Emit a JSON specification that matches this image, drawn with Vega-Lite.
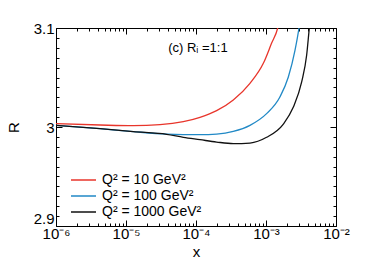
{
  "$schema": "https://vega.github.io/schema/vega-lite/v6.json",
  "width": 280,
  "height": 198,
  "autosize": "none",
  "padding": {"left": 56, "top": 28, "right": 38, "bottom": 38},
  "config": {
    "font": "Liberation Sans",
    "view": {"stroke": "black", "strokeWidth": 1},
    "axis": {"domain": false, "grid": false, "tickColor": "black", "labelColor": "black", "titleColor": "black", "labelFont": "Liberation Sans", "titleFont": "Liberation Sans", "titleFontWeight": "normal"}
  },
  "data": {
    "values": [
      {"s": "Q² = 10 GeV²", "x": 1e-6, "r": 3.0034},
      {"s": "Q² = 10 GeV²", "x": 4.26e-6, "r": 3.002},
      {"s": "Q² = 10 GeV²", "x": 1.27e-5, "r": 3.0013},
      {"s": "Q² = 10 GeV²", "x": 3.06e-5, "r": 3.0023},
      {"s": "Q² = 10 GeV²", "x": 6.59e-5, "r": 3.0054},
      {"s": "Q² = 10 GeV²", "x": 1.14e-4, "r": 3.0098},
      {"s": "Q² = 10 GeV²", "x": 1.97e-4, "r": 3.0165},
      {"s": "Q² = 10 GeV²", "x": 3.41e-4, "r": 3.0273},
      {"s": "Q² = 10 GeV²", "x": 5.9e-4, "r": 3.0441},
      {"s": "Q² = 10 GeV²", "x": 9.16e-4, "r": 3.0643},
      {"s": "Q² = 10 GeV²", "x": 1.2e-3, "r": 3.0845},
      {"s": "Q² = 10 GeV²", "x": 1.47e-3, "r": 3.1},
      {"s": "Q² = 10 GeV²", "x": 1.6e-3, "r": 3.112},
      {"s": "Q² = 100 GeV²", "x": 1e-6, "r": 3.0017},
      {"s": "Q² = 100 GeV²", "x": 4.26e-6, "r": 2.9983},
      {"s": "Q² = 100 GeV²", "x": 1.27e-5, "r": 2.9953},
      {"s": "Q² = 100 GeV²", "x": 3.81e-5, "r": 2.9929},
      {"s": "Q² = 100 GeV²", "x": 1.14e-4, "r": 2.9923},
      {"s": "Q² = 100 GeV²", "x": 1.97e-4, "r": 2.9929},
      {"s": "Q² = 100 GeV²", "x": 3.41e-4, "r": 2.9956},
      {"s": "Q² = 100 GeV²", "x": 5.9e-4, "r": 3.0017},
      {"s": "Q² = 100 GeV²", "x": 1.02e-3, "r": 3.0135},
      {"s": "Q² = 100 GeV²", "x": 1.58e-3, "r": 3.0303},
      {"s": "Q² = 100 GeV²", "x": 2.08e-3, "r": 3.0502},
      {"s": "Q² = 100 GeV²", "x": 2.59e-3, "r": 3.0771},
      {"s": "Q² = 100 GeV²", "x": 2.96e-3, "r": 3.1},
      {"s": "Q² = 100 GeV²", "x": 3.1e-3, "r": 3.11},
      {"s": "Q² = 1000 GeV²", "x": 1e-6, "r": 3.0017},
      {"s": "Q² = 1000 GeV²", "x": 4.26e-6, "r": 2.9983},
      {"s": "Q² = 1000 GeV²", "x": 1.27e-5, "r": 2.9953},
      {"s": "Q² = 1000 GeV²", "x": 3.81e-5, "r": 2.9926},
      {"s": "Q² = 1000 GeV²", "x": 6.59e-5, "r": 2.9896},
      {"s": "Q² = 1000 GeV²", "x": 1.14e-4, "r": 2.9872},
      {"s": "Q² = 1000 GeV²", "x": 1.97e-4, "r": 2.9848},
      {"s": "Q² = 1000 GeV²", "x": 3.41e-4, "r": 2.9832},
      {"s": "Q² = 1000 GeV²", "x": 5.9e-4, "r": 2.9838},
      {"s": "Q² = 1000 GeV²", "x": 1.02e-3, "r": 2.9896},
      {"s": "Q² = 1000 GeV²", "x": 1.77e-3, "r": 3.003},
      {"s": "Q² = 1000 GeV²", "x": 2.45e-3, "r": 3.0199},
      {"s": "Q² = 1000 GeV²", "x": 3.24e-3, "r": 3.0458},
      {"s": "Q² = 1000 GeV²", "x": 3.81e-3, "r": 3.0727},
      {"s": "Q² = 1000 GeV²", "x": 4.16e-3, "r": 3.1},
      {"s": "Q² = 1000 GeV²", "x": 4.4e-3, "r": 3.115}
    ]
  },
  "resolve": {"axis": {"x": "independent", "y": "independent"}},
  "layer": [
    {
      "mark": {"type": "line", "clip": true, "strokeWidth": 1.3, "interpolate": "monotone"},
      "encoding": {
        "x": {"field": "x", "type": "quantitative",
          "scale": {"type": "log", "domain": [1e-6, 1e-2], "nice": false},
          "axis": {"orient": "bottom", "values": [1e-6, 1e-5, 1e-4, 1e-3, 1e-2], "tickSize": -6,
            "labelExpr": "'10' + (round(log(datum.value)/LN10) == -6 ? '⁻⁶' : round(log(datum.value)/LN10) == -5 ? '⁻⁵' : round(log(datum.value)/LN10) == -4 ? '⁻⁴' : round(log(datum.value)/LN10) == -3 ? '⁻³' : '⁻²')",
            "labelFontSize": 15, "labelPadding": 6, "labelFlush": false,
            "title": "x", "titleFontSize": 15, "titlePadding": 3}},
        "y": {"field": "r", "type": "quantitative",
          "scale": {"domain": [2.9, 3.1], "nice": false, "zero": false},
          "axis": {"orient": "left", "values": [2.9, 3.0, 3.1], "tickSize": -6, "format": "~g",
            "labelBaseline": {"condition": {"test": "datum.value < 2.95", "value": "alphabetic"}, "value": "middle"},
            "labelOffset": {"condition": {"test": "datum.value < 2.95", "value": -3}, "value": 0},
            "labelFontSize": 15, "labelPadding": 8, "labelFlush": false,
            "title": "R", "titleFontSize": 15, "titlePadding": 12}},
        "color": {"field": "s", "type": "nominal",
          "scale": {"domain": ["Q² = 10 GeV²", "Q² = 100 GeV²", "Q² = 1000 GeV²"], "range": ["#e8352b", "#2189c6", "#111111"]},
          "legend": {"orient": "none", "legendX": 14, "legendY": 144, "title": null, "padding": 0,
            "symbolType": "stroke", "symbolSize": 625, "symbolStrokeWidth": 1.5, "clipHeight": 16,
            "labelFontSize": 14, "labelFont": "Liberation Sans", "labelColor": "black", "labelOffset": 5, "rowPadding": 0}}
      }
    },
    {
      "mark": {"type": "line", "strokeOpacity": 0},
      "encoding": {
        "x": {"field": "x", "type": "quantitative",
          "axis": {"orient": "bottom", "values": [2e-6,3e-6,4e-6,5e-6,6e-6,7e-6,8e-6,9e-6,2e-5,3e-5,4e-5,5e-5,6e-5,7e-5,8e-5,9e-5,2e-4,3e-4,4e-4,5e-4,6e-4,7e-4,8e-4,9e-4,2e-3,3e-3,4e-3,5e-3,6e-3,7e-3,8e-3,9e-3], "tickSize": -3, "labels": false, "title": null}},
        "y": {"field": "r", "type": "quantitative",
          "axis": {"orient": "left", "values": [2.91,2.92,2.93,2.94,2.95,2.96,2.97,2.98,2.99,3.01,3.02,3.03,3.04,3.05,3.06,3.07,3.08,3.09], "tickSize": -3, "labels": false, "title": null}}
      }
    },
    {
      "mark": {"type": "line", "strokeOpacity": 0},
      "encoding": {
        "x": {"field": "x", "type": "quantitative",
          "axis": {"orient": "top", "values": [1e-6, 1e-5, 1e-4, 1e-3, 1e-2], "tickSize": -6, "labels": false, "title": null}},
        "y": {"field": "r", "type": "quantitative",
          "axis": {"orient": "right", "values": [2.9, 3.0, 3.1], "tickSize": -6, "labels": false, "title": null}}
      }
    },
    {
      "mark": {"type": "line", "strokeOpacity": 0},
      "encoding": {
        "x": {"field": "x", "type": "quantitative",
          "axis": {"orient": "top", "values": [2e-6,3e-6,4e-6,5e-6,6e-6,7e-6,8e-6,9e-6,2e-5,3e-5,4e-5,5e-5,6e-5,7e-5,8e-5,9e-5,2e-4,3e-4,4e-4,5e-4,6e-4,7e-4,8e-4,9e-4,2e-3,3e-3,4e-3,5e-3,6e-3,7e-3,8e-3,9e-3], "tickSize": -3, "labels": false, "title": null}},
        "y": {"field": "r", "type": "quantitative",
          "axis": {"orient": "right", "values": [2.91,2.92,2.93,2.94,2.95,2.96,2.97,2.98,2.99,3.01,3.02,3.03,3.04,3.05,3.06,3.07,3.08,3.09], "tickSize": -3, "labels": false, "title": null}}
      }
    },
    {
      "data": {"values": [{"label": "(c)  Rᵢ =1:1", "x": 4e-5, "r": 3.08}]},
      "mark": {"type": "text", "align": "left", "baseline": "middle", "fontSize": 13, "font": "Liberation Sans", "color": "black"},
      "encoding": {
        "x": {"field": "x", "type": "quantitative", "axis": null},
        "y": {"field": "r", "type": "quantitative", "axis": null},
        "text": {"field": "label"}
      }
    }
  ]
}
